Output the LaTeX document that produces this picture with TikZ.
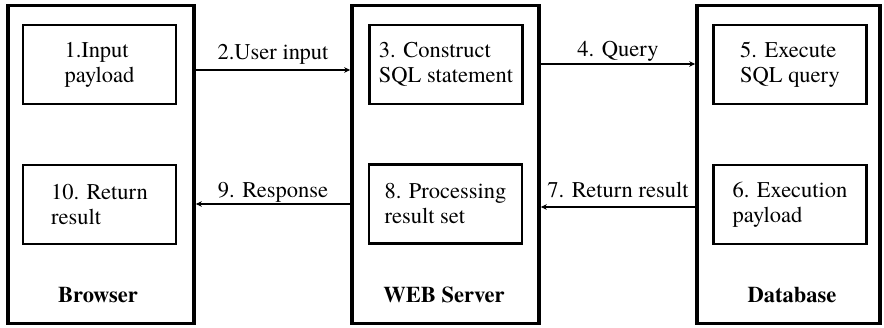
\documentclass[tikz,border=0pt]{standalone}
\usepackage{fontspec}
\IfFontExistsTF{texgyretermes-regular.otf}{%
  \setmainfont{texgyretermes}[Extension=.otf, UprightFont=*-regular, BoldFont=*-bold, ItalicFont=*-italic, BoldItalicFont=*-bolditalic]}{%
  \setmainfont{Liberation Serif}}
\usetikzlibrary{arrows.meta}
\begin{document}
\begin{tikzpicture}[x=1pt,y=-1pt,
  tier/.style={draw, line width=3.6pt, inner sep=0pt, minimum height=318pt},
  stepbox/.style={draw, line width=2.8pt, minimum width=153pt, minimum height=79pt,
    align=left, inner sep=0pt, font=\fontsize{22.5}{25}\selectfont},
  tiername/.style={font=\bfseries\fontsize{22.5}{25}\selectfont, inner sep=0pt},
  lbl/.style={font=\fontsize{22.5}{25}\selectfont, anchor=base, inner sep=0pt},
  arr/.style={line width=1.8pt, -{Stealth[length=6pt,width=5.5pt]}}]
\fill[white] (0,0) rectangle (884,328);
\useasboundingbox (0,0) rectangle (884,328);
% tiers
\node[tier, minimum width=186pt] (browser) at (101,164.5) {};
\node[tier, minimum width=187pt] (web) at (445.5,164.5) {};
\node[tier, minimum width=183pt] (db) at (788.5,164.5) {};
% steps
\node[stepbox] (s1) at (99.5,64.5) {1.Input\\payload};
\node[stepbox] (s10) at (99.5,204.5) {10. Return\\result};
\node[stepbox] (s3) at (446,64.5) {3. Construct\\SQL statement};
\node[stepbox] (s8) at (445.5,204) {8. Processing\\result set};
\node[stepbox] (s5) at (790,64.5) {5. Execute\\SQL query};
\node[stepbox] (s6) at (790,204.5) {6. Execution\\payload};
% tier names
\node[tiername] (nb) at (98,295) {Browser};
\node[tiername] (nw) at (444,295) {WEB Server};
\node[tiername] (nd) at (792,295) {Database};
% connectors
\draw[arr] (browser.east |- 0,70) -- node[lbl, midway, yshift=10pt] {2.User input} (web.west |- 0,70);
\draw[arr] (web.east |- 0,64) -- node[lbl, midway, yshift=7pt] {4. Query} (db.west |- 0,64);
\draw[arr] (db.west |- 0,207) -- node[lbl, midway, yshift=9pt] {7. Return result} (web.east |- 0,207);
\draw[arr] (web.west |- 0,204) -- node[lbl, midway, yshift=6pt] {9. Response} (browser.east |- 0,204);
\end{tikzpicture}
\end{document}
